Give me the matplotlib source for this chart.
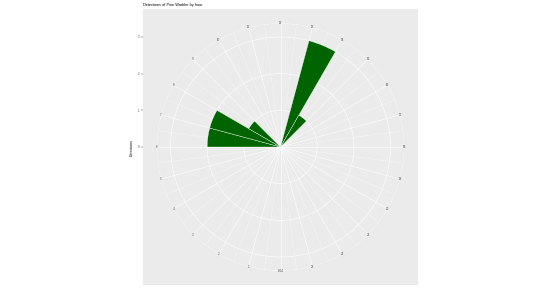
import numpy as np
import matplotlib
matplotlib.use("Agg")
import matplotlib.pyplot as plt

plt.rcParams['font.family'] = ['Liberation Sans', 'DejaVu Sans']

# detections per hour (bars span hour -> hour+1)
hours = [6, 7, 8, 13, 14]
detections = [2, 2, 1, 3, 1]
hour_labels = ['0/24'] + [str(h) for h in range(1, 24)]
r_ticks = [0, 1, 2, 3]

W, H = 553, 295
fig = plt.figure(figsize=(W / 100, H / 100), dpi=100)
fig.patch.set_facecolor('white')

# grey ggplot-style panel
px0, py0, pw, ph = 143, 10, 275, 276   # left, bottom (pixels from bottom)
bg = fig.add_axes([px0 / W, py0 / H, pw / W, ph / H], zorder=-1)
bg.set_facecolor('#EBEBEB')
bg.set_xticks([])
bg.set_yticks([])
for s in bg.spines.values():
    s.set_visible(False)

cx, cy = px0 + pw / 2, py0 + ph / 2
R = 0.45 * pw                 # outer circle radius (px)
rmax = max(r_ticks) * 0.45 / 0.4

ax = fig.add_axes([(cx - R) / W, (cy - R) / H, 2 * R / W, 2 * R / H],
                  projection='polar', zorder=1)
ax.patch.set_alpha(0)
ax.spines['polar'].set_visible(False)
ax.set_theta_zero_location('S')
ax.set_theta_direction(-1)
ax.set_ylim(0, rmax)

to_theta = lambda h: np.asarray(h) * 2 * np.pi / 24

# grid
ax.set_xticks(to_theta(np.arange(24)))
ax.set_xticks(to_theta(np.arange(24) + 0.5), minor=True)
ax.set_xticklabels([])
ax.set_yticks(r_ticks[1:] + [rmax])
ax.set_yticklabels([])
ax.grid(True, which='major', color='white', linewidth=0.4)
ax.grid(True, which='minor', axis='x', color='white', linewidth=0.2)
ax.tick_params(which='both', length=0)
ax.set_axisbelow(True)

ax.bar(to_theta(np.array(hours) + 0.5), detections, width=2 * np.pi / 24,
       color='#006400', edgecolor='white', linewidth=0.25, zorder=2)

for h, lab in enumerate(hour_labels):
    ax.text(to_theta(h), rmax, lab, ha='center', va='center',
            fontsize=2.2, color='#4D4D4D')

# left radial axis
yax = fig.add_axes([px0 / W, (cy - R) / H, 0.001, 2 * R / H], zorder=2)
yax.set_ylim(-rmax, rmax)
yax.set_xticks([])
yax.set_yticks(r_ticks)
yax.set_yticklabels([str(t) for t in r_ticks])
yax.tick_params(axis='y', length=1.5, width=0.3, color='#333333',
                labelsize=2.2, labelcolor='#4D4D4D', pad=0.8)
for s in yax.spines.values():
    s.set_visible(False)
yax.patch.set_alpha(0)

fig.text(132 / W, cy / H, 'Detections', rotation=90, fontsize=2.6,
         ha='center', va='center', color='black')
fig.text(px0 / W, 1 - 5 / H, 'Detections of Pine Warbler by hour',
         fontsize=2.8, ha='left', va='center', color='black')

fig.savefig('out.png', dpi=100)
